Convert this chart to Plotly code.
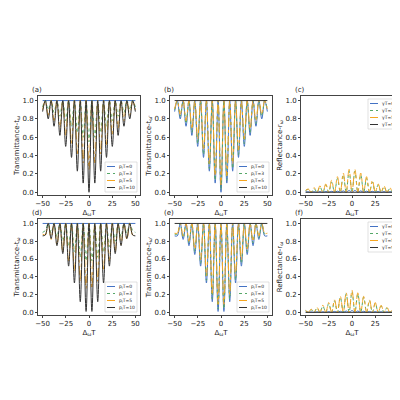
import plotly.graph_objects as go

# top row: dips at even multiples of pi, peaks (=1) at odd multiples
top_dip_x = [0, 6.28, 12.57, 18.85, 25.13, 31.42, 37.70, 43.98]
top_peak_x = [3.14, 9.42, 15.71, 21.99, 28.27, 34.56, 40.84, 47.12]
# bottom row: dips at odd multiples, peaks at even multiples
bot_dip_x = [3.14, 9.42, 15.71, 21.99, 28.27, 34.56, 40.84, 47.12]
bot_peak_x = [0, 6.28, 12.57, 18.85, 25.13, 31.42, 37.70, 43.98]
edge_x = 50

labels_t = ["p<sub>l</sub>T=0", "p<sub>l</sub>T=3", "p<sub>l</sub>T=5", "p<sub>l</sub>T=10"]
labels_r = ["γT=0", "γT=3", "γT=5", "γT=9.8"]

# dip minima (from centre outward) + edge value; None = flat line
a_dips = [None,
          [0.55, 0.60, 0.65, 0.72, 0.78, 0.83, 0.87, 0.90, 0.93],
          [0.25, 0.32, 0.42, 0.52, 0.62, 0.70, 0.78, 0.84, 0.90],
          [0.00, 0.10, 0.23, 0.38, 0.50, 0.62, 0.72, 0.80, 0.88]]
b_dips = [[0.00, 0.10, 0.23, 0.38, 0.50, 0.62, 0.72, 0.80, 0.88],
          [0.03, 0.13, 0.26, 0.41, 0.53, 0.65, 0.75, 0.83, 0.90],
          [0.08, 0.18, 0.31, 0.46, 0.58, 0.69, 0.78, 0.85, 0.91],
          None]
c_peaks = [[0.02, 0.015, 0.012, 0.01, 0.008, 0.006, 0.005, 0.004, 0.004],
           [0.23, 0.19, 0.15, 0.11, 0.08, 0.06, 0.04, 0.03, 0.02],
           [0.25, 0.21, 0.17, 0.13, 0.09, 0.07, 0.05, 0.035, 0.02],
           None]
d_dips = [None,
          [0.58, 0.62, 0.68, 0.74, 0.80, 0.85, 0.89, 0.92, 0.90],
          [0.27, 0.35, 0.47, 0.58, 0.68, 0.76, 0.82, 0.87, 0.88],
          [0.01, 0.12, 0.33, 0.52, 0.66, 0.75, 0.83, 0.87, 0.86]]
e_dips = [[0.01, 0.12, 0.33, 0.52, 0.65, 0.75, 0.82, 0.86, 0.86],
          [0.04, 0.15, 0.36, 0.55, 0.68, 0.78, 0.84, 0.88, 0.88],
          [0.09, 0.20, 0.41, 0.59, 0.71, 0.80, 0.86, 0.89, 0.89],
          None]
f_peaks = [[0.02, 0.015, 0.012, 0.01, 0.008, 0.006, 0.005, 0.004, 0.004],
           [0.23, 0.21, 0.17, 0.13, 0.10, 0.07, 0.05, 0.03, 0.02],
           [0.25, 0.22, 0.18, 0.14, 0.11, 0.08, 0.055, 0.035, 0.02],
           None]

colors = ["#4472c4", "#55a868", "#f5a623", "#333333"]
dashes = ["solid", "dot", "dashdot", "solid"]


def build(ext_x, ext_vals, base_x, base_val):
    if ext_vals is None:
        return [-50, 50], [base_val, base_val]
    pts = []
    for x, v in zip(ext_x, ext_vals[:-1]):
        pts.append((x, v))
        if x != 0:
            pts.append((-x, v))
    for x in base_x:
        pts.append((x, base_val))
        if x != 0:
            pts.append((-x, base_val))
    pts.append((edge_x, ext_vals[-1]))
    pts.append((-edge_x, ext_vals[-1]))
    pts.sort()
    return [p[0] for p in pts], [p[1] for p in pts]


panels = [
    (a_dips, top_dip_x, top_peak_x, 1.0, labels_t, "(a)", "Transmittance-t<sub>ω</sub>"),
    (b_dips, top_dip_x, top_peak_x, 1.0, labels_t, "(b)", "Transmittance-t<sub>ω'</sub>"),
    (c_peaks, top_peak_x, top_dip_x, 0.0, labels_r, "(c)", "Reflectance-r<sub>ω</sub>"),
    (d_dips, bot_dip_x, bot_peak_x, 1.0, labels_t, "(d)", "Transmittance-t<sub>ω</sub>"),
    (e_dips, bot_dip_x, bot_peak_x, 1.0, labels_t, "(e)", "Transmittance-t<sub>ω'</sub>"),
    (f_peaks, bot_peak_x, bot_dip_x, 0.0, labels_r, "(f)", "Reflectance-r<sub>ω</sub>"),
]

xdoms = [[0.075, 0.33], [0.405, 0.66], [0.7325, 0.9875]]
ydoms = [[0.5325, 0.78], [0.2325, 0.4725]]

fig = go.Figure()
layout = dict(width=400, height=400, margin=dict(l=0, r=0, t=0, b=0, autoexpand=False),
              plot_bgcolor="white", paper_bgcolor="white", showlegend=False,
              font=dict(family="DejaVu Sans", size=7, color="#222"),
              annotations=[], shapes=[])

W = 400.0
for i, (vals, ex, bx, bv, labs, tag, ytitle) in enumerate(panels):
    n = i + 1
    xa = "x" if n == 1 else f"x{n}"
    ya = "y" if n == 1 else f"y{n}"
    for j in range(4):
        xs, ys = build(ex, vals[j], bx, bv)
        fig.add_trace(go.Scatter(x=xs, y=ys, mode="lines", name=labs[j], xaxis=xa, yaxis=ya,
                                 line=dict(color=colors[j], dash=dashes[j], width=1,
                                           shape="spline", smoothing=1.0)))
    r, c = divmod(i, 3)
    ax = dict(domain=xdoms[c], range=[-55, 55], tickvals=[-50, -25, 0, 25, 50],
              showline=True, mirror=True, linecolor="#444", linewidth=0.8,
              ticks="outside", ticklen=2, showgrid=False, zeroline=False,
              anchor=ya, title=dict(text="Δ<sub>ω</sub>T", standoff=2, font=dict(size=7)),
              tickfont=dict(size=7))
    ay = dict(domain=ydoms[r], range=[-0.03, 1.05], tickvals=[0, 0.2, 0.4, 0.6, 0.8, 1.0],
              tickformat=".1f", showline=True, mirror=True, linecolor="#444", linewidth=0.8,
              ticks="outside", ticklen=2, showgrid=False, zeroline=False,
              anchor=xa, title=dict(text=ytitle, standoff=2, font=dict(size=7)),
              tickfont=dict(size=7))
    layout["xaxis" if n == 1 else f"xaxis{n}"] = ax
    layout["yaxis" if n == 1 else f"yaxis{n}"] = ay
    # hand-drawn compact legend box
    refl = c == 2
    bw, bh = 32 / W, 30 / W
    x1 = xdoms[c][1] - 3 / W
    x0 = x1 - bw
    if refl:
        y1 = ydoms[r][1] - 3 / W
        y0 = y1 - bh
    else:
        y0 = ydoms[r][0] + 3 / W
        y1 = y0 + bh
    layout["shapes"].append(dict(type="rect", xref="paper", yref="paper", x0=x0, x1=x1,
                                 y0=y0, y1=y1, fillcolor="white",
                                 line=dict(color="#ccc", width=0.6), layer="above"))
    for j in range(4):
        yy = y1 - (4.5 + 7 * j) / W
        layout["shapes"].append(dict(type="line", xref="paper", yref="paper",
                                     x0=x0 + 2 / W, x1=x0 + 10 / W, y0=yy, y1=yy,
                                     line=dict(color=colors[j], dash=dashes[j], width=1),
                                     layer="above"))
        layout["annotations"].append(dict(text=labs[j], x=x0 + 12 / W, y=yy, xref="paper",
                                          yref="paper", xanchor="left", yanchor="middle",
                                          showarrow=False, font=dict(size=4.5)))
    layout["annotations"].append(dict(text=tag, x=xdoms[c][0] - 0.02, y=ydoms[r][1], xref="paper",
                                      yref="paper", xanchor="left", yanchor="bottom",
                                      showarrow=False, font=dict(size=7)))

fig.update_layout(**layout)
fig.write_html("out.html")
